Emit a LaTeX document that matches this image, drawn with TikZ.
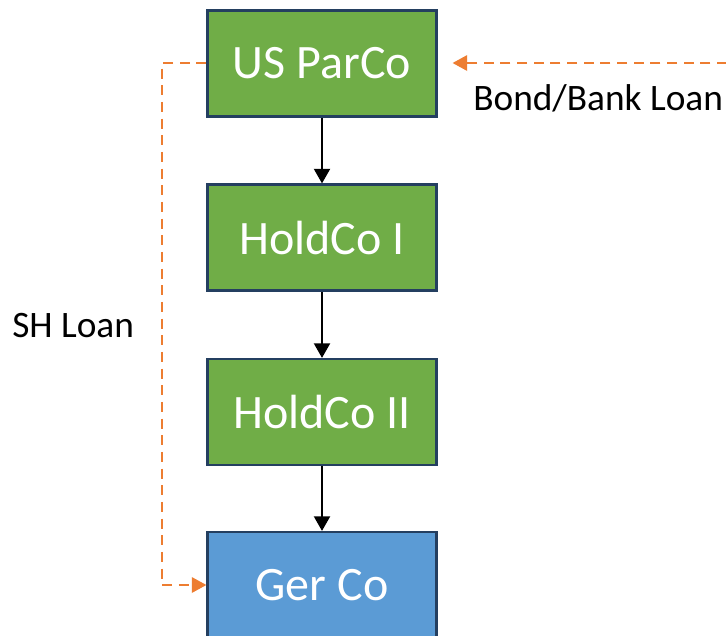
\documentclass[tikz,border=0pt]{standalone}
\usepackage{fontspec}
\setmainfont{Carlito}
\usetikzlibrary{arrows.meta}
\definecolor{boxgreen}{HTML}{70AD47}
\definecolor{boxblue}{HTML}{5B9BD5}
\definecolor{boxline}{HTML}{243F60}
\definecolor{loanorange}{HTML}{ED7D31}
\tikzset{
  entity/.style={draw=boxline, line width=1.6pt, minimum width=229*0.75pt,
    minimum height=106*0.75pt, inner sep=0pt, text=white,
    font=\fontsize{36}{42}\selectfont},
  own/.style={line width=1.7pt, -{Triangle[width=12pt,length=11pt]}},
  loan/.style={draw=loanorange, line width=1.8pt, dash pattern=on 7.5pt off 5pt,
    -{Triangle[width=11.5pt,length=11pt,fill=loanorange]}},
  lbl/.style={font=\fontsize{28}{33}\selectfont, inner sep=0pt}
}
\begin{document}
\begin{tikzpicture}[x=0.75pt,y=-0.75pt]
\clip (0,0) rectangle (726,636);
\fill[white] (0,0) rectangle (726,636);

% entities
\node[entity, fill=boxgreen] (usp) at (322,63.5) {US ParCo};
\node[entity, fill=boxgreen] (h1)  at (322,237.5) {HoldCo I};
\node[entity, fill=boxgreen] (h2)  at (322,412) {HoldCo II};
\node[entity, fill=boxblue]  (ger) at (322,585) {Ger Co};

% ownership chain
\draw[own] (usp) -- (h1);
\draw[own] (h1) -- (h2);
\draw[own] (h2) -- (ger);

% shareholder loan
\coordinate (shl) at (162,63);
\draw[loan] (usp.west |- shl) -- (shl) |- (ger.west);
\node[lbl, anchor=west] (shlbl) at (12,326) {SH Loan};

% external financing
\coordinate (ext) at (727,63);
\draw[loan, shorten >=15*0.75pt] (ext) -- (usp.east |- ext);
\node[lbl, anchor=west] (bblbl) at (473,98) {Bond/Bank Loan};
\end{tikzpicture}
\end{document}
